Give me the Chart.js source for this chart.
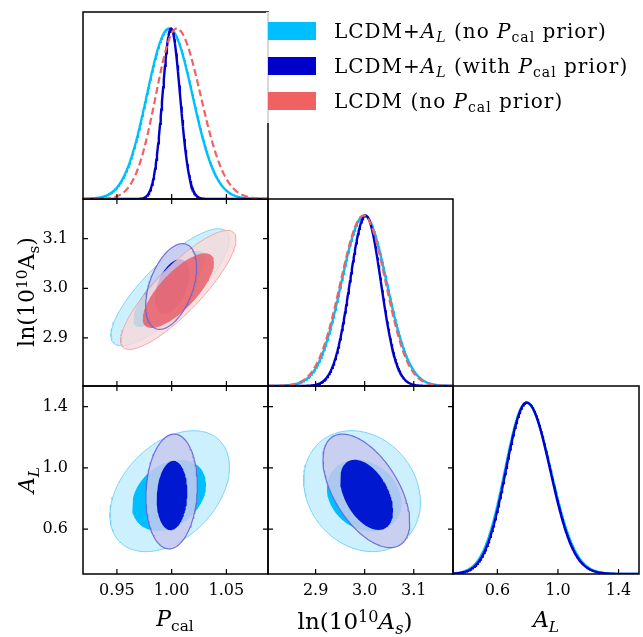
<!DOCTYPE html>
<html>
<head>
<meta charset="utf-8">
<script src="https://cdn.jsdelivr.net/npm/chart.js@4.4.0/dist/chart.umd.min.js"></script>
<style>
body { margin: 0; background: #fff; }
#fig { position: relative; width: 643px; height: 637px; overflow: hidden; font-family: 'DejaVu Serif', serif; color: #000; }
#fig canvas { position: absolute; }
.leg { position: absolute; left: 266px; top: 12px; width: 374px; height: 111px; background: rgba(255, 255, 255, 0.8); }
.leg .patch { position: absolute; left: 2px; width: 48px; height: 18px; }
.leg .txt { position: absolute; left: 68px; height: 18px; line-height: 18px; font-size: 20px; letter-spacing: 1px; white-space: nowrap; }
.titre { position: absolute; white-space: nowrap; font-size: 22px; line-height: 26px; transform: translate(-50%, -50%); }
.rot { transform: translate(-50%, -50%) rotate(-90deg); }
.ind { font-size: 0.7em; position: relative; top: 0.3em; }
.exp { font-size: 0.7em; position: relative; top: -0.45em; }
</style>
</head>
<body>
<div id="fig">
  <div class="leg">
    <div class="patch" style="top:10px; background:rgb(0,191,255)"></div>
    <div class="txt" style="top:10px">LCDM+<i>A</i><span class="ind"><i>L</i></span> (no <i>P</i><span class="ind">cal</span> prior)</div>
    <div class="patch" style="top:45px; background:rgb(0,0,205)"></div>
    <div class="txt" style="top:45px">LCDM+<i>A</i><span class="ind"><i>L</i></span> (with <i>P</i><span class="ind">cal</span> prior)</div>
    <div class="patch" style="top:80px; background:rgb(240,98,98)"></div>
    <div class="txt" style="top:80px">LCDM (no <i>P</i><span class="ind">cal</span> prior)</div>
  </div>
  <div class="titre" style="left:175px; top:620px"><i>P</i><span class="ind">cal</span></div>
  <div class="titre" style="left:355px; top:622px; font-size:23px">ln(10<span class="exp">10</span><i>A</i><span class="ind"><i>s</i></span>)</div>
  <div class="titre" style="left:546px; top:621px"><i>A</i><span class="ind"><i>L</i></span></div>
  <div class="titre rot" style="left:28px; top:292px">ln(10<span class="exp">10</span>A<span class="ind">s</span>)</div>
  <div class="titre rot" style="left:28px; top:480px"><i>A</i><span class="ind"><i>L</i></span></div>
</div>
<script>
// bornes des axes et graduations
const pcalRange = [0.919, 1.088];
const lnAsRange = [2.803, 3.180];
const alRange = [0.307, 1.535];
const densRange = [0, 1.097];
const pcalTicks = [0.95, 1.00, 1.05];
const lnAsTicks = [2.9, 3.0, 3.1];
const alTicks = [0.6, 1.0, 1.4];

// distributions 1D : [pic, sigma gauche, sigma droite]
const pcalCyan = [0.9978, 0.0206, 0.0213];
const pcalBleu = [0.9994, 0.0078, 0.0083];
const pcalRouge = [1.0045, 0.0190, 0.0220];
const lnAsCyan = [2.999, 0.0465, 0.0460];
const lnAsBleu = [3.002, 0.0323, 0.0312];
const lnAsRouge = [2.998, 0.0474, 0.0450];
const alCyan = [0.792, 0.142, 0.160];
const alBleu = [0.794, 0.138, 0.155];

// contours 2D : [centre x, centre y, demi-largeur, demi-hauteur, correlation]
const pcalLnAsCyan95 = [0.9985, 3.002, 0.054, 0.118, 0.82];
const pcalLnAsCyan68 = [0.9977, 2.9985, 0.033, 0.0767, 0.80];
const pcalLnAsRouge95 = [1.0061, 2.9966, 0.0527, 0.120, 0.85];
const pcalLnAsRouge68 = [1.0061, 2.9953, 0.0326, 0.0753, 0.75];
const pcalLnAsBleu95 = [0.9995, 3.0036, 0.0233, 0.0864, 0.45];
const pcalLnAsBleu68 = [1.0004, 3.0036, 0.0157, 0.055, 0.45];

const pcalAlCyan95 = [0.9982, 0.848, 0.0546, 0.395, 0.40];
const pcalAlCyan68 = [0.9976, 0.821, 0.0338, 0.232, 0.30];
const pcalAlBleu95 = [0.99995, 0.846, 0.0235, 0.375, 0.10];
const pcalAlBleu68 = [1.0003, 0.8196, 0.014, 0.2265, 0.10];

const lnAsAlCyan95 = [2.9946, 0.848, 0.119, 0.395, -0.18];
const lnAsAlCyan68 = [2.999, 0.8186, 0.076, 0.2345, -0.20];
const lnAsAlBleu95 = [3.0034, 0.850, 0.0884, 0.371, -0.55];
const lnAsAlBleu68 = [3.0039, 0.824, 0.0539, 0.229, -0.45];

const cyan = 'rgb(0,191,255)';
const bleu = 'rgb(0,0,205)';
const rouge = 'rgb(240,98,98)';

const police = "'DejaVu Serif', serif";
const fig = document.getElementById('fig');

// grille des panneaux
const X0 = [83, 268, 453], W = [185, 185, 186];
const Y0 = [12, 199, 386], H = [187, 187, 188];
const marge = 2;

function gauss1D(p, range) {
    const pts = [];
    const n = 300;
    for (let i = 0; i <= n; i++) {
        const x = range[0] + (range[1] - range[0]) * i / n;
        const s = x < p[0] ? p[1] : p[2];
        pts.push({ x: x, y: Math.exp(-0.5 * ((x - p[0]) / s) ** 2) });
    }
    return pts;
}

function ellipse(e) {
    const pts = [];
    const n = 140;
    const c = Math.sqrt(1 - e[4] * e[4]);
    for (let i = 0; i <= n; i++) {
        const t = 2 * Math.PI * i / n;
        pts.push({ x: e[0] + e[2] * Math.cos(t), y: e[1] + e[3] * (e[4] * Math.cos(t) + c * Math.sin(t)) });
    }
    return pts;
}

function courbe(p, range, couleur, tirets) {
    return {
        data: gauss1D(p, range), showLine: true, pointRadius: 0, fill: false,
        borderColor: couleur, borderWidth: tirets ? 2.2 : 2.4, borderDash: tirets ? [7, 3.5] : []
    };
}

function contour(e, remplissage, trait, epaisseur) {
    return {
        data: ellipse(e), showLine: true, pointRadius: 0, fill: remplissage ? 'shape' : false, tension: 0,
        backgroundColor: remplissage || 'rgba(0,0,0,0)', borderColor: trait || 'rgba(0,0,0,0)', borderWidth: epaisseur || 0
    };
}

// cadre noir + graduations vers l'interieur
function cadre(xTicks, yTicks, deuxD) {
    return {
        id: 'cadre',
        afterDatasetsDraw(chart) {
            const a = chart.chartArea, ctx = chart.ctx, L = 5;
            ctx.save();
            ctx.strokeStyle = '#000';
            ctx.lineWidth = 1.2;
            ctx.beginPath();
            xTicks.forEach(v => {
                const px = chart.scales.x.getPixelForValue(v);
                ctx.moveTo(px, a.bottom); ctx.lineTo(px, a.bottom - L);
                if (deuxD) { ctx.moveTo(px, a.top); ctx.lineTo(px, a.top + L); }
            });
            if (deuxD) {
                yTicks.forEach(v => {
                    const py = chart.scales.y.getPixelForValue(v);
                    ctx.moveTo(a.left, py); ctx.lineTo(a.left + L, py);
                    ctx.moveTo(a.right, py); ctx.lineTo(a.right - L, py);
                });
            }
            ctx.stroke();
            ctx.lineWidth = 1.5;
            ctx.strokeRect(a.left, a.top, a.right - a.left, a.bottom - a.top);
            ctx.restore();
        }
    };
}

function axe(range, ticks, decimales, visible, position) {
    return {
        type: 'linear', position: position, min: range[0], max: range[1], display: visible,
        grid: { display: false, drawTicks: false },
        border: { display: false },
        afterBuildTicks: s => { s.ticks = ticks.map(v => ({ value: v })); },
        afterFit: s => {
            // pas de marge automatique : les panneaux restent alignes
            s.paddingTop = 0; s.paddingBottom = 0; s.paddingLeft = 0; s.paddingRight = 0;
            if (!visible) return;
            if (position === 'left') s.width = 83; else s.height = 40;
        },
        ticks: {
            autoSkip: false, maxRotation: 0, minRotation: 0, color: '#000',
            padding: position === 'left' ? 15 : 7,
            font: { size: 16, family: police },
            callback: v => Number(v).toFixed(decimales)
        }
    };
}

function panneau(col, lig, ax, ay, datasets, deuxD) {
    const yLab = col === 0 && lig > 0;
    const xLab = lig === 2;
    const gauche = yLab ? 83 : marge;
    const bas = xLab ? 40 : marge;
    const w = gauche + W[col] + marge, h = marge + H[lig] + bas;
    const cv = document.createElement('canvas');
    cv.width = w; cv.height = h;
    cv.style.left = (X0[col] - gauche) + 'px';
    cv.style.top = (Y0[lig] - marge) + 'px';
    cv.style.width = w + 'px'; cv.style.height = h + 'px';
    fig.insertBefore(cv, fig.firstChild);
    // premier dataset dessine en premier (dessous)
    datasets.forEach((d, k) => { d.order = -k; });
    new Chart(cv, {
        type: 'scatter',
        data: { datasets: datasets },
        options: {
            responsive: false, animation: false, devicePixelRatio: 1,
            layout: { padding: { left: yLab ? 0 : marge, right: marge, top: marge, bottom: xLab ? 0 : marge } },
            plugins: { legend: { display: false }, tooltip: { enabled: false } },
            scales: {
                x: axe(ax.range, ax.ticks, ax.dec, xLab, 'bottom'),
                y: axe(ay.range, ay.ticks, ay.dec, yLab, 'left')
            }
        },
        plugins: [cadre(ax.ticks, ay.ticks, deuxD)]
    });
}

const axPcal = { range: pcalRange, ticks: pcalTicks, dec: 2 };
const axLnAs = { range: lnAsRange, ticks: lnAsTicks, dec: 1 };
const axAl = { range: alRange, ticks: alTicks, dec: 1 };
const axDens = { range: densRange, ticks: [], dec: 1 };

// couleurs des contours
const cyan95 = 'rgb(204,240,253)', cyan95Trait = 'rgb(120,212,250)';
const bleu95 = 'rgba(200,201,237,0.85)', bleu95Trait = 'rgba(100,100,215,0.9)';
const bleu68 = 'rgb(0,25,208)';
const rouge95 = 'rgba(247,217,217,0.8)', rouge95Trait = 'rgba(240,160,160,0.9)';
const rouge68 = 'rgba(232,88,98,0.8)';

// ligne 1
panneau(0, 0, axPcal, axDens, [
    courbe(pcalCyan, pcalRange, cyan),
    courbe(pcalBleu, pcalRange, bleu),
    courbe(pcalRouge, pcalRange, rouge, true)
], false);

// ligne 2 : le rouge passe au-dessus, seul le trait bleu reste visible
panneau(0, 1, axPcal, axLnAs, [
    contour(pcalLnAsCyan95, cyan95, cyan95Trait, 1),
    contour(pcalLnAsCyan68, cyan),
    contour(pcalLnAsBleu95, bleu95),
    contour(pcalLnAsBleu68, bleu68),
    contour(pcalLnAsRouge95, rouge95, rouge95Trait, 1),
    contour(pcalLnAsRouge68, rouge68),
    contour(pcalLnAsBleu95, null, bleu95Trait, 1.2)
], true);
panneau(1, 1, axLnAs, axDens, [
    courbe(lnAsCyan, lnAsRange, cyan),
    courbe(lnAsBleu, lnAsRange, bleu),
    courbe(lnAsRouge, lnAsRange, rouge, true)
], false);

// ligne 3
panneau(0, 2, axPcal, axAl, [
    contour(pcalAlCyan95, cyan95, cyan95Trait, 1),
    contour(pcalAlCyan68, cyan),
    contour(pcalAlBleu95, bleu95, bleu95Trait, 1.2),
    contour(pcalAlBleu68, bleu68)
], true);
panneau(1, 2, axLnAs, axAl, [
    contour(lnAsAlCyan95, cyan95, cyan95Trait, 1),
    contour(lnAsAlCyan68, cyan),
    contour(lnAsAlBleu95, bleu95, bleu95Trait, 1.2),
    contour(lnAsAlBleu68, bleu68)
], true);
panneau(2, 2, axAl, axDens, [
    courbe(alCyan, alRange, cyan),
    courbe(alBleu, alRange, bleu)
], false);
</script>
</body>
</html>
